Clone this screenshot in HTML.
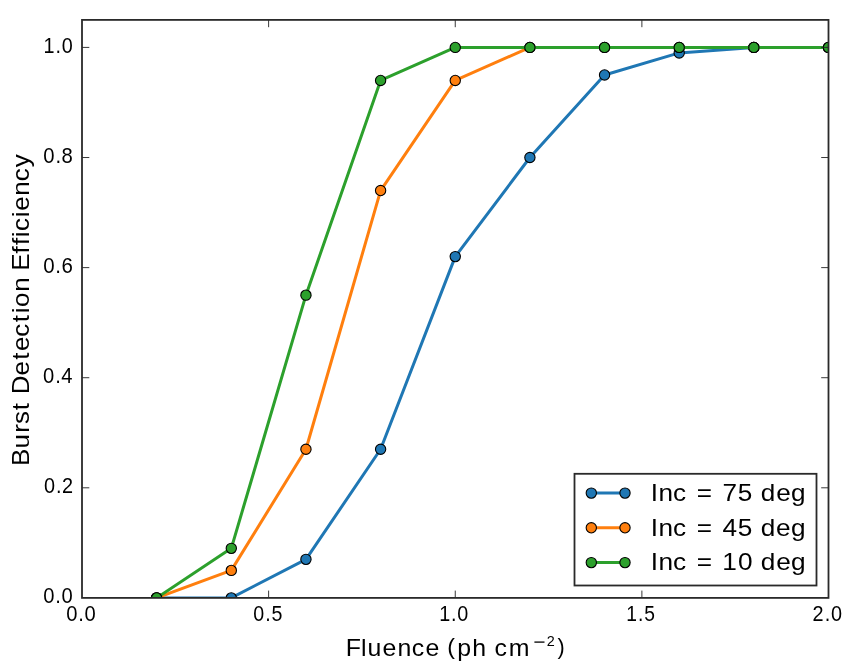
<!DOCTYPE html><html><head><meta charset="utf-8"><title>Burst Detection Efficiency vs Fluence</title><style>html,body{margin:0;padding:0;background:#fff;overflow:hidden}svg{display:block;will-change:transform}text{font-family:"Liberation Sans",sans-serif;fill:#000}</style></head><body>
<svg width="850" height="666" viewBox="0 0 850 666">
<defs><clipPath id="c"><rect x="82" y="19.9" width="746.5" height="578"/></clipPath></defs>
<g clip-path="url(#c)">
<polyline points="156.65,597.9 231.3,597.9 305.95,559.37 380.6,449.27 455.25,256.6 529.9,157.52 604.55,74.95 679.2,52.93 753.85,47.42 828.5,47.42" fill="none" stroke="#1f77b4" stroke-width="3" stroke-linejoin="round"/>
<circle cx="156.65" cy="597.9" r="5.15" fill="#1f77b4" stroke="#000" stroke-width="1.1"/>
<circle cx="231.3" cy="597.9" r="5.15" fill="#1f77b4" stroke="#000" stroke-width="1.1"/>
<circle cx="305.95" cy="559.37" r="5.15" fill="#1f77b4" stroke="#000" stroke-width="1.1"/>
<circle cx="380.6" cy="449.27" r="5.15" fill="#1f77b4" stroke="#000" stroke-width="1.1"/>
<circle cx="455.25" cy="256.6" r="5.15" fill="#1f77b4" stroke="#000" stroke-width="1.1"/>
<circle cx="529.9" cy="157.52" r="5.15" fill="#1f77b4" stroke="#000" stroke-width="1.1"/>
<circle cx="604.55" cy="74.95" r="5.15" fill="#1f77b4" stroke="#000" stroke-width="1.1"/>
<circle cx="679.2" cy="52.93" r="5.15" fill="#1f77b4" stroke="#000" stroke-width="1.1"/>
<circle cx="753.85" cy="47.42" r="5.15" fill="#1f77b4" stroke="#000" stroke-width="1.1"/>
<circle cx="828.5" cy="47.42" r="5.15" fill="#1f77b4" stroke="#000" stroke-width="1.1"/>
<polyline points="156.65,597.9 231.3,570.38 305.95,449.27 380.6,190.55 455.25,80.45 529.9,47.42 604.55,47.42 679.2,47.42 753.85,47.42 828.5,47.42" fill="none" stroke="#ff7f0e" stroke-width="3" stroke-linejoin="round"/>
<circle cx="156.65" cy="597.9" r="5.15" fill="#ff7f0e" stroke="#000" stroke-width="1.1"/>
<circle cx="231.3" cy="570.38" r="5.15" fill="#ff7f0e" stroke="#000" stroke-width="1.1"/>
<circle cx="305.95" cy="449.27" r="5.15" fill="#ff7f0e" stroke="#000" stroke-width="1.1"/>
<circle cx="380.6" cy="190.55" r="5.15" fill="#ff7f0e" stroke="#000" stroke-width="1.1"/>
<circle cx="455.25" cy="80.45" r="5.15" fill="#ff7f0e" stroke="#000" stroke-width="1.1"/>
<circle cx="529.9" cy="47.42" r="5.15" fill="#ff7f0e" stroke="#000" stroke-width="1.1"/>
<circle cx="604.55" cy="47.42" r="5.15" fill="#ff7f0e" stroke="#000" stroke-width="1.1"/>
<circle cx="679.2" cy="47.42" r="5.15" fill="#ff7f0e" stroke="#000" stroke-width="1.1"/>
<circle cx="753.85" cy="47.42" r="5.15" fill="#ff7f0e" stroke="#000" stroke-width="1.1"/>
<circle cx="828.5" cy="47.42" r="5.15" fill="#ff7f0e" stroke="#000" stroke-width="1.1"/>
<polyline points="156.65,597.9 231.3,548.36 305.95,295.14 380.6,80.45 455.25,47.42 529.9,47.42 604.55,47.42 679.2,47.42 753.85,47.42 828.5,47.42" fill="none" stroke="#2ca02c" stroke-width="3" stroke-linejoin="round"/>
<circle cx="156.65" cy="597.9" r="5.15" fill="#2ca02c" stroke="#000" stroke-width="1.1"/>
<circle cx="231.3" cy="548.36" r="5.15" fill="#2ca02c" stroke="#000" stroke-width="1.1"/>
<circle cx="305.95" cy="295.14" r="5.15" fill="#2ca02c" stroke="#000" stroke-width="1.1"/>
<circle cx="380.6" cy="80.45" r="5.15" fill="#2ca02c" stroke="#000" stroke-width="1.1"/>
<circle cx="455.25" cy="47.42" r="5.15" fill="#2ca02c" stroke="#000" stroke-width="1.1"/>
<circle cx="529.9" cy="47.42" r="5.15" fill="#2ca02c" stroke="#000" stroke-width="1.1"/>
<circle cx="604.55" cy="47.42" r="5.15" fill="#2ca02c" stroke="#000" stroke-width="1.1"/>
<circle cx="679.2" cy="47.42" r="5.15" fill="#2ca02c" stroke="#000" stroke-width="1.1"/>
<circle cx="753.85" cy="47.42" r="5.15" fill="#2ca02c" stroke="#000" stroke-width="1.1"/>
<circle cx="828.5" cy="47.42" r="5.15" fill="#2ca02c" stroke="#000" stroke-width="1.1"/>
</g>
<path d="M268.62 597.9V590.6M268.62 19.9V27.2M455.25 597.9V590.6M455.25 19.9V27.2M641.88 597.9V590.6M641.88 19.9V27.2M82 487.8H89.3M828.5 487.8H821.2M82 377.71H89.3M828.5 377.71H821.2M82 267.61H89.3M828.5 267.61H821.2M82 157.52H89.3M828.5 157.52H821.2M82 47.42H89.3M828.5 47.42H821.2" stroke="#222" stroke-width="0.9" fill="none"/>
<rect x="82" y="19.9" width="746.5" height="578" fill="none" stroke="#2a2a2a" stroke-width="1.8"/>
<text class="t" transform="scale(0.9091,1)" x="47.64 60.91 67.73" y="603.46" font-size="22.2">0.0</text>
<text class="t" transform="scale(0.8947,1)" x="49.23 62.66 69.36" y="493.36" font-size="22.2">0.2</text>
<text class="t" transform="scale(0.9091,1)" x="47.43 60.69 67.51" y="383.27" font-size="22.2">0.4</text>
<text class="t" transform="scale(0.9233,1)" x="46.74 59.85 66.53" y="273.17" font-size="22.2">0.6</text>
<text class="t" transform="scale(0.9136,1)" x="47.42 60.64 67.41" y="163.08" font-size="22.2">0.8</text>
<text class="t" transform="scale(0.8917,1)" x="48.71 62.15 69.17" y="52.98" font-size="22.2">1.0</text>
<text class="t" transform="scale(0.9091,1)" x="72.88 86.14 92.97" y="620.6" font-size="22.2">0.0</text>
<text class="t" transform="scale(0.8860,1)" x="285.8 299.33 306.33" y="620.6" font-size="22.2">0.5</text>
<text class="t" transform="scale(0.8917,1)" x="492.48 505.91 512.93" y="620.6" font-size="22.2">1.0</text>
<text class="t" transform="scale(0.8675,1)" x="721.77 735.49 742.71" y="620.6" font-size="22.2">1.5</text>
<text class="t" transform="scale(0.8947,1)" x="908.26 921.84 928.82" y="620.6" font-size="22.2">2.0</text>
<text transform="scale(1.0729,1)" x="322.28 336.39 342.59 356.51 370.42 383.86 396.55 409.8 416.77 426.22 440.24 453.66 460.8 474.29" y="655.6" font-size="23.2">Fluence <tspan font-size="21.6" dy="-1.6">(</tspan><tspan dy="1.6">ph cm</tspan></text>
<rect x="534.4" y="641.45" width="10.1" height="1.3" fill="#000"/>
<text x="546.68" y="646.3" font-size="14.4">2</text>
<text x="557.38" y="654" font-size="21.6">)</text>
<text transform="translate(28.5,0) rotate(-90) scale(1.1185,1)" x="-416.57 -401.06 -386.87 -379.02 -366.84 -359.26 -352.51 -335.65 -321.71 -313.92 -301.06 -288.1 -280.1 -274.46 -260.96 -247.82 -242.02 -226.6 -219.1 -212.01 -206.64 -194.2 -188.48 -175.06 -162.06 -149.49" y="0" font-size="23.2">Burst Detection Efficiency</text>
<rect x="574.5" y="473.8" width="242" height="111.7" fill="#fff" stroke="#2a2a2a" stroke-width="1.8"/>
<path d="M591.3 493.1H625" stroke="#1f77b4" stroke-width="3"/>
<circle cx="591.3" cy="493.1" r="5.15" fill="#1f77b4" stroke="#000" stroke-width="1.1"/>
<circle cx="625" cy="493.1" r="5.15" fill="#1f77b4" stroke="#000" stroke-width="1.1"/>
<text transform="scale(1.1265,1)" x="577.78 584.59 597.55 609.55 618.57 634.22 641.35 654.93 668.38 675.42 688.99 702.21" y="500.9" font-size="23.2">Inc = 75 deg</text>
<path d="M591.3 527.8H625" stroke="#ff7f0e" stroke-width="3"/>
<circle cx="591.3" cy="527.8" r="5.15" fill="#ff7f0e" stroke="#000" stroke-width="1.1"/>
<circle cx="625" cy="527.8" r="5.15" fill="#ff7f0e" stroke="#000" stroke-width="1.1"/>
<text transform="scale(1.1290,1)" x="576.49 583.28 596.21 608.19 617.18 632.81 639.95 653.46 666.89 673.9 687.45 700.64" y="536" font-size="23.2">Inc = 45 deg</text>
<path d="M591.3 562.6H625" stroke="#2ca02c" stroke-width="3"/>
<circle cx="591.3" cy="562.6" r="5.15" fill="#2ca02c" stroke="#000" stroke-width="1.1"/>
<circle cx="625" cy="562.6" r="5.15" fill="#2ca02c" stroke="#000" stroke-width="1.1"/>
<text transform="scale(1.1308,1)" x="575.57 582.34 595.23 607.21 616.15 631.76 638.75 652.54 665.88 672.85 686.37 699.52" y="570.3" font-size="23.2">Inc = 10 deg</text>
</svg></body></html>
